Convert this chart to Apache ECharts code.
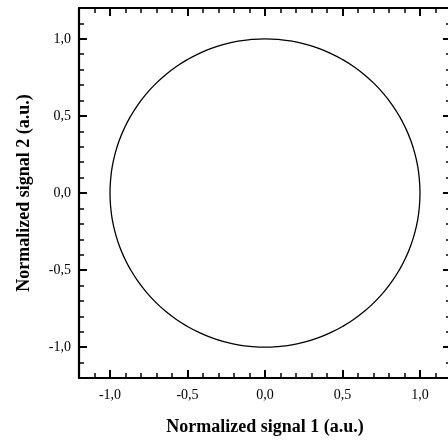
<!DOCTYPE html>
<html>
<head>
<meta charset="utf-8">
<script src="https://cdn.jsdelivr.net/npm/echarts@6/dist/echarts.min.js"></script>
<style>
html, body { margin: 0; padding: 0; background: #fff; }
#main { width: 448px; height: 442px; }
</style>
</head>
<body>
<div id="main"></div>
<script>
// points (signal 1, signal 2)
var signal1 = [1.000, 0.996, 0.985, 0.966, 0.940, 0.906, 0.866, 0.819, 0.766, 0.707,
  0.643, 0.574, 0.500, 0.423, 0.342, 0.259, 0.174, 0.087, 0.000,
  -0.087, -0.174, -0.259, -0.342, -0.423, -0.500, -0.574, -0.643, -0.707,
  -0.766, -0.819, -0.866, -0.906, -0.940, -0.966, -0.985, -0.996, -1.000,
  -0.996, -0.985, -0.966, -0.940, -0.906, -0.866, -0.819, -0.766, -0.707,
  -0.643, -0.574, -0.500, -0.423, -0.342, -0.259, -0.174, -0.087, 0.000,
  0.087, 0.174, 0.259, 0.342, 0.423, 0.500, 0.574, 0.643, 0.707,
  0.766, 0.819, 0.866, 0.906, 0.940, 0.966, 0.985, 0.996, 1.000];
var signal2 = [0.000, 0.087, 0.174, 0.259, 0.342, 0.423, 0.500, 0.574, 0.643, 0.707,
  0.766, 0.819, 0.866, 0.906, 0.940, 0.966, 0.985, 0.996, 1.000,
  0.996, 0.985, 0.966, 0.940, 0.906, 0.866, 0.819, 0.766, 0.707,
  0.643, 0.574, 0.500, 0.423, 0.342, 0.259, 0.174, 0.087, 0.000,
  -0.087, -0.174, -0.259, -0.342, -0.423, -0.500, -0.574, -0.643, -0.707,
  -0.766, -0.819, -0.866, -0.906, -0.940, -0.966, -0.985, -0.996, -1.000,
  -0.996, -0.985, -0.966, -0.940, -0.906, -0.866, -0.819, -0.766, -0.707,
  -0.643, -0.574, -0.500, -0.423, -0.342, -0.259, -0.174, -0.087, 0.000];
var majorTicks = [-1.0, -0.5, 0.0, 0.5, 1.0];
var minorTicks = [-1.1, -0.9, -0.8, -0.7, -0.6, -0.4, -0.3, -0.2, -0.1,
  0.1, 0.2, 0.3, 0.4, 0.6, 0.7, 0.8, 0.9, 1.1];

var serif = 'Liberation Serif';
var myChart = echarts.init(document.getElementById('main'));

var pts = [];
for (var i = 0; i < signal1.length; i++) {
    pts.push([signal1[i], signal2[i]]);
}

function fmt(v) {
    return v.toFixed(1).replace('.', ',');
}

// grid 0 carries frame, major ticks and labels; grid 1 (same box) the minor ticks
function majorAxis(dim, pos, withLabels) {
    return {
        type: 'value', gridIndex: 0, position: pos, min: -1.2, max: 1.2,
        axisLine: { show: true, onZero: false, lineStyle: { color: '#000', width: 2.2 } },
        axisTick: { show: true, inside: true, length: 8, customValues: majorTicks,
            lineStyle: { color: '#000', width: 2 } },
        axisLabel: { show: withLabels, customValues: majorTicks, formatter: fmt,
            fontFamily: serif, fontSize: 14, color: '#000', margin: dim === 'x' ? 10 : 8 },
        splitLine: { show: false }
    };
}
function minorAxis(pos) {
    return {
        type: 'value', gridIndex: 1, position: pos, min: -1.2, max: 1.2,
        axisLine: { show: false, onZero: false },
        axisTick: { show: true, inside: true, length: 5, customValues: minorTicks,
            lineStyle: { color: '#000', width: 1.5 } },
        axisLabel: { show: false },
        splitLine: { show: false }
    };
}

var xs = [majorAxis('x', 'bottom', true), majorAxis('x', 'top', false),
          minorAxis('bottom'), minorAxis('top')];
var ys = [majorAxis('y', 'left', true), majorAxis('y', 'right', false),
          minorAxis('left'), minorAxis('right')];

xs[0].name = 'Normalized signal 1 (a.u.)';
xs[0].nameLocation = 'middle';
xs[0].nameGap = 40;
xs[0].nameTextStyle = { fontFamily: serif, fontWeight: 'bold', fontSize: 18, color: '#000' };

ys[0].name = 'Normalized signal 2 (a.u.)';
ys[0].nameLocation = 'middle';
ys[0].nameGap = 46;
ys[0].nameTextStyle = { fontFamily: serif, fontWeight: 'bold', fontSize: 18, color: '#000' };

var box = { left: 79, top: 8, width: 372, height: 370, containLabel: false, outerBoundsMode: 'none' };

var option = {
    animation: false,
    backgroundColor: '#fff',
    grid: [Object.assign({}, box), Object.assign({}, box)],
    xAxis: xs,
    yAxis: ys,
    series: [
        {
            type: 'line',
            xAxisIndex: 0,
            yAxisIndex: 0,
            data: pts,
            smooth: true,
            showSymbol: false,
            lineStyle: { color: '#000', width: 1.3 }
        }
    ]
};

myChart.setOption(option);
</script>
</body>
</html>
